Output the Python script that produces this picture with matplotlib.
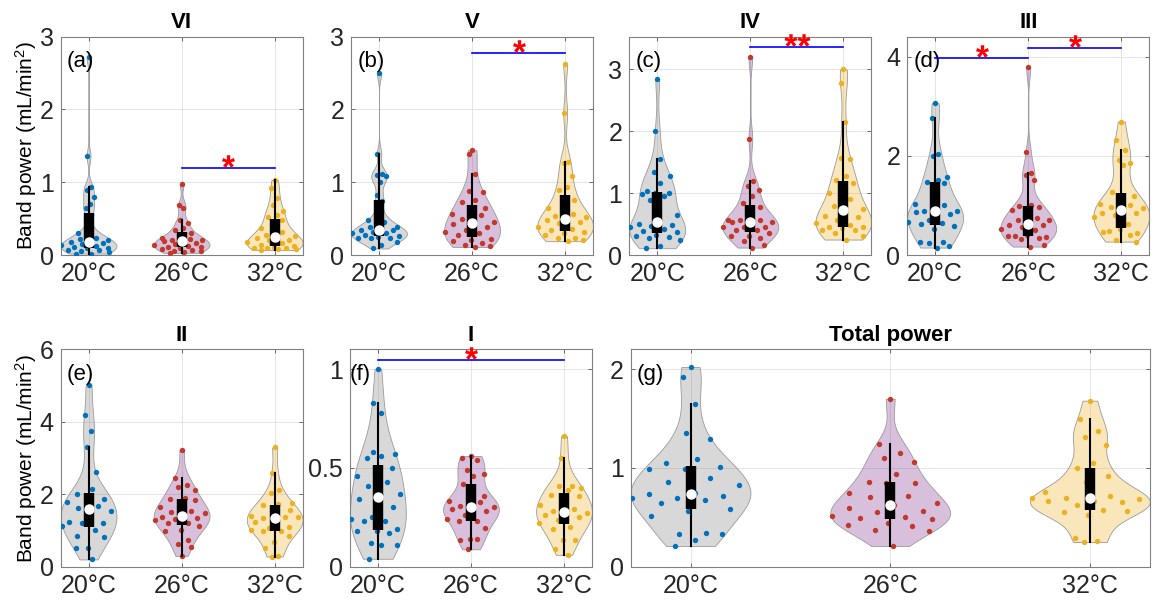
import numpy as np
import matplotlib.pyplot as plt
import matplotlib.transforms as mtransforms
from matplotlib.textpath import TextPath
from matplotlib.font_manager import FontProperties
from matplotlib.markers import MarkerStyle
from matplotlib.path import Path
from matplotlib.ticker import FuncFormatter

plt.rcParams['font.family'] = ['Liberation Sans', 'DejaVu Sans']
plt.rcParams['mathtext.fontset'] = 'custom'
plt.rcParams['mathtext.rm'] = 'Liberation Sans'
plt.rcParams['mathtext.it'] = 'Liberation Sans:italic'

# === DATA (band power, mL/min^2) ===
TEMPS = ['20°C', '26°C', '32°C']
TITLES = ['VI', 'V', 'IV', 'III', 'II', 'I', 'Total power']
TAGS = ['(a)', '(b)', '(c)', '(d)', '(e)', '(f)', '(g)']

VI_20 = [2.72, 1.36, 0.94, 0.89, 0.80, 0.70, 0.64, 0.55, 0.34, 0.30, 0.24, 0.22, 0.20, 0.19,
         0.18, 0.17, 0.15, 0.14, 0.12, 0.11, 0.10, 0.09, 0.07, 0.07, 0.05, 0.04, 0.02, 0.02]
VI_26 = [0.98, 0.69, 0.65, 0.48, 0.44, 0.37, 0.35, 0.30, 0.26, 0.23, 0.22, 0.21, 0.21, 0.20,
         0.19, 0.17, 0.15, 0.14, 0.12, 0.11, 0.11, 0.10, 0.08, 0.07, 0.06, 0.05, 0.04, 0.03]
VI_32 = [1.03, 0.92, 0.78, 0.69, 0.60, 0.55, 0.52, 0.48, 0.42, 0.37, 0.32, 0.28, 0.26, 0.25,
         0.24, 0.21, 0.20, 0.18, 0.16, 0.14, 0.13, 0.11, 0.10, 0.10, 0.09, 0.08, 0.08, 0.07]

V_20 = [2.50, 1.39, 1.12, 1.10, 1.08, 1.01, 0.82, 0.74, 0.57, 0.48, 0.46, 0.39, 0.39, 0.35,
        0.34, 0.34, 0.32, 0.30, 0.30, 0.27, 0.26, 0.25, 0.24, 0.23, 0.23, 0.18, 0.14, 0.09]
V_26 = [1.44, 1.39, 1.11, 0.88, 0.86, 0.76, 0.73, 0.64, 0.63, 0.57, 0.55, 0.50, 0.46, 0.44,
        0.42, 0.39, 0.34, 0.31, 0.30, 0.27, 0.22, 0.21, 0.19, 0.17, 0.14, 0.12, 0.11]
V_32 = [2.63, 1.95, 1.28, 1.26, 1.08, 0.93, 0.89, 0.76, 0.73, 0.64, 0.57, 0.53, 0.52, 0.50,
        0.48, 0.45, 0.44, 0.39, 0.36, 0.34, 0.32, 0.30, 0.28, 0.24, 0.23, 0.20, 0.19]

IV_20 = [2.85, 2.01, 1.55, 1.35, 1.27, 1.17, 1.04, 1.01, 1.01, 0.99, 0.95, 0.89, 0.65, 0.56,
         0.50, 0.49, 0.47, 0.45, 0.42, 0.39, 0.37, 0.33, 0.30, 0.29, 0.27, 0.25, 0.15, 0.11]
IV_26 = [3.21, 1.88, 1.19, 1.12, 1.05, 0.95, 0.84, 0.78, 0.70, 0.56, 0.56, 0.56, 0.54, 0.54,
         0.54, 0.46, 0.46, 0.45, 0.41, 0.41, 0.35, 0.31, 0.31, 0.27, 0.22, 0.16, 0.12]
IV_32 = [3.00, 2.78, 2.15, 1.57, 1.55, 1.27, 1.22, 1.16, 1.11, 1.00, 0.90, 0.80, 0.74, 0.72,
         0.63, 0.62, 0.57, 0.51, 0.49, 0.46, 0.46, 0.43, 0.41, 0.41, 0.36, 0.30, 0.25]

III_20 = [3.06, 2.76, 2.03, 2.00, 1.58, 1.51, 1.48, 1.45, 1.20, 1.03, 1.00, 0.89, 0.89, 0.88,
          0.86, 0.83, 0.71, 0.66, 0.65, 0.62, 0.58, 0.52, 0.26, 0.26, 0.24, 0.18, 0.15]
III_26 = [3.78, 2.07, 1.65, 1.62, 1.51, 1.00, 0.99, 0.97, 0.93, 0.91, 0.75, 0.71, 0.71, 0.62,
          0.61, 0.60, 0.57, 0.53, 0.50, 0.38, 0.36, 0.40, 0.38, 0.34, 0.32, 0.20, 0.17]
III_32 = [2.69, 2.32, 2.12, 1.92, 1.85, 1.82, 1.26, 1.18, 1.04, 1.03, 1.01, 0.96, 0.94, 0.86,
          0.84, 0.84, 0.81, 0.76, 0.62, 0.48, 0.45, 0.52, 0.46, 0.40, 0.30, 0.27]

II_20 = [5.01, 4.20, 3.75, 3.31, 2.60, 2.14, 2.00, 1.86, 1.82, 1.79, 1.67, 1.62, 1.55, 1.29,
         1.24, 1.20, 1.20, 1.12, 1.00, 0.85, 0.81, 0.52, 0.52, 0.20]
II_26 = [3.22, 2.44, 2.25, 2.19, 2.13, 1.89, 1.87, 1.84, 1.66, 1.64, 1.55, 1.52, 1.47, 1.41,
         1.36, 1.33, 1.31, 1.29, 1.20, 1.20, 1.12, 1.01, 0.99, 0.74, 0.62, 0.53, 0.30]
II_32 = [3.29, 2.59, 2.12, 2.02, 1.75, 1.72, 1.70, 1.56, 1.54, 1.41, 1.38, 1.33, 1.36, 1.29,
         1.24, 1.10, 1.06, 1.01, 0.99, 0.99, 0.85, 0.67, 0.52, 0.29, 0.28]

I_20 = [1.00, 0.83, 0.78, 0.58, 0.57, 0.56, 0.55, 0.50, 0.48, 0.46, 0.43, 0.41, 0.37, 0.37,
        0.34, 0.30, 0.25, 0.24, 0.23, 0.23, 0.19, 0.18, 0.18, 0.17, 0.12, 0.11, 0.11, 0.04]
I_26 = [0.56, 0.55, 0.54, 0.49, 0.47, 0.46, 0.42, 0.36, 0.35, 0.33, 0.325, 0.305, 0.30, 0.30,
        0.29, 0.28, 0.26, 0.24, 0.23, 0.23, 0.195, 0.14, 0.135, 0.14, 0.088]
I_32 = [0.66, 0.55, 0.41, 0.41, 0.40, 0.39, 0.365, 0.36, 0.32, 0.31, 0.29, 0.28, 0.27, 0.27,
        0.26, 0.25, 0.234, 0.22, 0.20, 0.19, 0.136, 0.136, 0.088, 0.06]

TOT_20 = [2.02, 1.92, 1.65, 1.35, 1.29, 1.085, 1.045, 1.005, 0.99, 0.99, 0.895, 0.86, 0.83,
          0.745, 0.735, 0.72, 0.70, 0.695, 0.67, 0.645, 0.585, 0.56, 0.515, 0.34, 0.33, 0.33,
          0.265, 0.21]
TOT_26 = [1.70, 1.24, 1.155, 1.095, 1.06, 0.94, 0.86, 0.85, 0.85, 0.745, 0.72, 0.705, 0.645,
          0.62, 0.595, 0.565, 0.55, 0.515, 0.50, 0.495, 0.48, 0.445, 0.425, 0.41, 0.375, 0.36,
          0.21]
TOT_32 = [1.68, 1.49, 1.37, 1.31, 1.23, 1.05, 1.00, 0.92, 0.855, 0.76, 0.715, 0.69, 0.68,
          0.665, 0.66, 0.655, 0.62, 0.69, 0.57, 0.555, 0.56, 0.52, 0.29, 0.26, 0.25]

GROUPS = [
    [VI_20, VI_26, VI_32],
    [V_20, V_26, V_32],
    [IV_20, IV_26, IV_32],
    [III_20, III_26, III_32],
    [II_20, II_26, II_32],
    [I_20, I_26, I_32],
    [TOT_20, TOT_26, TOT_32],
]

# significance brackets per panel: (from group, to group, bar height, stars)
SIG = [
    [(2, 3, 1.19, '*')],
    [(2, 3, 2.78, '*')],
    [(2, 3, 3.36, '**')],
    [(1, 2, 3.97, '*'), (2, 3, 4.17, '*')],
    [],
    [(1, 3, 1.047, '*')],
    [],
]

# === LAYOUT / STYLE ===
W, H = 1155, 606
AX_RECTS = [
    [0.0525, 0.5792, 0.2095, 0.3602],
    [0.3040, 0.5792, 0.2095, 0.3602],
    [0.5449, 0.5792, 0.2095, 0.3602],
    [0.7855, 0.5792, 0.2095, 0.3602],
    [0.0525, 0.0649, 0.2095, 0.3587],
    [0.3030, 0.0649, 0.2095, 0.3587],
    [0.5460, 0.0649, 0.4495, 0.3587],
]
YLIMS = [3, 3, 3.53, 4.4, 6, 1.1, 2.2]
YTICKS = [[0, 1, 2, 3], [0, 1, 2, 3], [0, 1, 2, 3], [0, 2, 4],
          [0, 2, 4, 6], [0, 0.5, 1], [0, 1, 2]]
TAG_DX = [4.5, 4.5, 4.5, 4.5, 4.5, 0, 4.5]

FACE = [(0.5, 0.5, 0.5, 0.3), (0.494, 0.184, 0.556, 0.3), (0.929, 0.694, 0.125, 0.3)]
DOTS = ['#0072BD', '#C0392B', '#EDB120']
EDGE = '#9a9a9a'
VIOLIN_WIDTH = 0.3


def ks_bandwidth(y):
    # normal-reference bandwidth based on the median absolute deviation
    sig = np.median(np.abs(y - np.median(y))) / 0.6745
    return sig * (4 / (3 * len(y))) ** 0.2


def draw_violin(ax, pos, values, face, dot):
    y = np.asarray(values, dtype=float)
    bw = ks_bandwidth(y)
    grid = np.linspace(y.min(), y.max(), 300)
    dens = np.exp(-0.5 * ((grid[:, None] - y[None, :]) / bw) ** 2).sum(axis=1)
    half = VIOLIN_WIDTH * dens / dens.max()
    ax.fill_betweenx(grid, pos - half, pos + half, facecolor=face,
                     edgecolor=EDGE, linewidth=0.6, zorder=2)

    # spread the points inside the violin outline
    spread = np.interp(y, grid, half)
    jitter = 2 * ((np.arange(len(y)) * 0.618034 + 0.5) % 1) - 1
    ax.scatter(pos + jitter * spread, y, s=15, color=dot, linewidths=0, zorder=3)

    q1, med, q3 = np.percentile(y, [25, 50, 75])
    iqr = q3 - q1
    lo = y[y >= q1 - 1.5 * iqr].min()
    hi = y[y <= q3 + 1.5 * iqr].max()
    ax.plot([pos, pos], [lo, hi], color='k', lw=1.5, zorder=4)
    ax.plot([pos, pos], [q1, q3], color='k', lw=7.5, solid_capstyle='butt', zorder=5)
    ax.plot(pos, med, 'o', ms=6.5, mfc='white', mec='white', zorder=6)


def star_marker(text):
    tp = TextPath((0, 0), text, size=10,
                  prop=FontProperties(family='Liberation Sans', weight='bold'))
    v = tp.vertices.copy()
    real = tp.codes != Path.CLOSEPOLY
    lo, hi = v[real].min(axis=0), v[real].max(axis=0)
    v -= (lo + hi) / 2
    v[~real] = 0
    w, h = hi - lo
    return MarkerStyle(Path(v, tp.codes)), max(w, h) / h


fig = plt.figure(figsize=(W / 100, H / 100), dpi=100)
fmt = FuncFormatter(lambda v, _: f'{v:g}')

for k in range(7):
    ax = fig.add_axes(AX_RECTS[k])
    ax.set_axisbelow(True)
    ax.grid(True, color='#e0e0e0', linewidth=0.6)

    for i, vals in enumerate(GROUPS[k]):
        draw_violin(ax, i + 1, vals, FACE[i], DOTS[i])

    ax.set_xlim(0.7, 3.3)
    ax.set_ylim(0, YLIMS[k])
    ax.set_xticks([1, 2, 3])
    ax.set_xticklabels(TEMPS)
    ax.set_yticks(YTICKS[k])
    ax.yaxis.set_major_formatter(fmt)
    ax.tick_params(direction='in', length=3, width=0.6, top=True, right=True,
                   labelsize=18, labelcolor='#262626', color='#555555')
    ax.tick_params(axis='x', pad=5)
    ax.tick_params(axis='y', pad=5)
    for sp in ax.spines.values():
        sp.set_color('#808080')
        sp.set_linewidth(0.8)

    ax.set_title(TITLES[k], fontsize=16, fontweight='bold', pad=6)
    ax.annotate(TAGS[k], xy=(0, 1), xycoords='axes fraction',
                xytext=(TAG_DX[k], -18), textcoords='offset points',
                ha='left', va='center', fontsize=16, zorder=7)

    if k in (0, 4):
        ax.set_ylabel('Band power (mL/min$^2$)', fontsize=15)
        ax.yaxis.set_label_coords(-0.088, 0.5)

    above = mtransforms.offset_copy(ax.transData, fig=fig, x=0, y=7, units='dots')
    for g0, g1, yb, stars in SIG[k]:
        ax.plot([g0, g1], [yb, yb], color='#0000FF', lw=1.2, zorder=8, clip_on=False)
        marker, ratio = star_marker(stars)
        ax.plot((g0 + g1) / 2, yb, linestyle='none', marker=marker, ms=9 * ratio,
                color='red', mec='none', transform=above, zorder=9, clip_on=False)

fig.savefig('out.png', dpi=100)
